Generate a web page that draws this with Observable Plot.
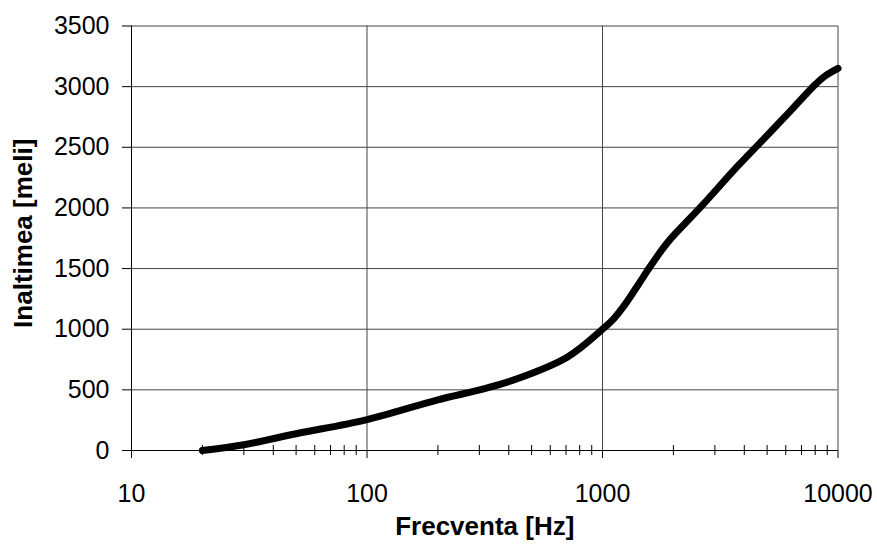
<!DOCTYPE html>
<html>
<head>
<meta charset="utf-8">
<script src="https://cdn.jsdelivr.net/npm/d3@7"></script>
<script src="https://cdn.jsdelivr.net/npm/@observablehq/plot@0.6"></script>
<style>
  html, body { margin: 0; padding: 0; background: white; }
</style>
</head>
<body>
<div id="chart"></div>
<script>
const freq = [20, 30, 50, 100, 200, 313, 434, 708, 1000, 1120, 1231, 1400, 1573, 1780, 1946, 2608, 3731, 4845, 6286, 7800, 8700, 10000];
const mels = [0, 48, 138, 255, 418, 508, 591, 769, 1000, 1090, 1190, 1350, 1500, 1650, 1745, 2006, 2340, 2570, 2800, 2995, 3080, 3150];
const xMajorTicks = [10, 100, 1000, 10000];
const xMinorTicks = [20, 30, 40, 50, 60, 70, 80, 90, 200, 300, 400, 500, 600, 700, 800, 900, 2000, 3000, 4000, 5000, 6000, 7000, 8000, 9000];
const yTicks = [0, 500, 1000, 1500, 2000, 2500, 3000, 3500];
const xTitle = "Frecventa [Hz]";
const yTitle = "Inaltimea [meli]";

const data = freq.map((f, i) => ({f, m: mels[i]}));
const font = "'Liberation Sans', Arial, sans-serif";

const W = 877, H = 546, mL = 131, mR = 39.5, mT = 25.5, mB = 96;
const frameH = H - mT - mB;
const minorHalf = 5;

const chart = Plot.plot({
  width: W,
  height: H,
  marginLeft: mL,
  marginRight: mR,
  marginTop: mT,
  marginBottom: mB,
  style: {fontFamily: font, fontSize: "25px", background: "white", color: "black"},
  x: {type: "log", domain: [10, 10000], label: null},
  y: {domain: [0, 3500], label: null},
  marks: [
    Plot.gridX(xMajorTicks, {stroke: "#444", strokeOpacity: 1}),
    Plot.gridY(yTicks, {stroke: "#444", strokeOpacity: 1}),
    Plot.ruleX([10], {stroke: "black"}),
    Plot.ruleY([0], {stroke: "black"}),
    Plot.ruleX(xMinorTicks, {x: d => d, insetTop: frameH - minorHalf, insetBottom: -minorHalf, stroke: "black"}),
    Plot.axisX(xMajorTicks, {tickSize: 8, tickPadding: 26, tickFormat: d => String(d), fontSize: 25, label: null}),
    Plot.axisY(yTicks, {tickSize: 9, tickPadding: 13, tickFormat: d => String(d), fontSize: 25, label: null}),
    Plot.line(data, {x: "f", y: "m", stroke: "black", strokeWidth: 7, strokeLinecap: "round", strokeLinejoin: "round", curve: "catmull-rom"}),
    Plot.text([xTitle], {text: d => d, frameAnchor: "bottom", textAnchor: "middle", dy: 84, fontWeight: "bold", fontSize: 26}),
    Plot.text([yTitle], {text: d => d, frameAnchor: "left", textAnchor: "middle", dx: -108, dy: -5, rotate: -90, fontWeight: "bold", fontSize: 26})
  ]
});
document.getElementById("chart").appendChild(chart);
</script>
</body>
</html>
